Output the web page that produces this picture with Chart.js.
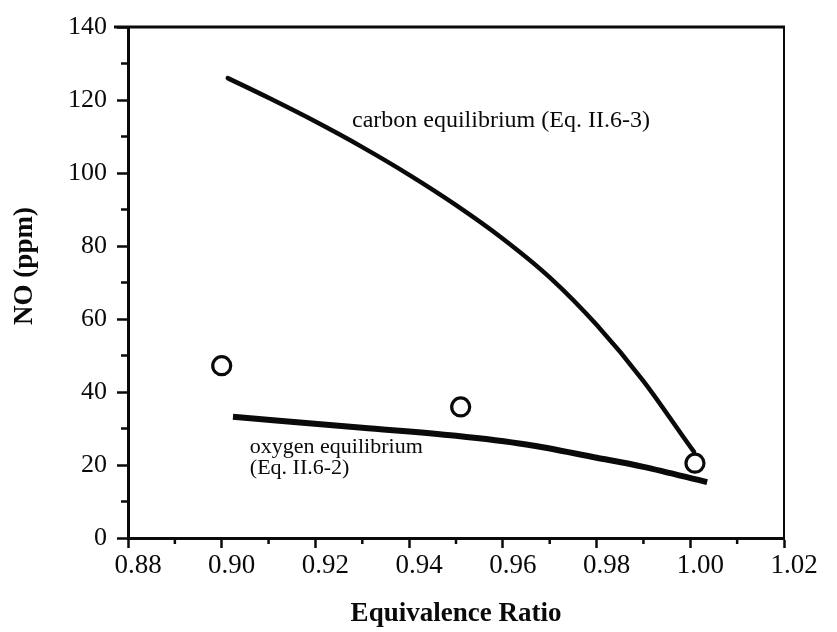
<!DOCTYPE html>
<html>
<head>
<meta charset="utf-8">
<script src="https://cdn.jsdelivr.net/npm/chart.js@4.4.0/dist/chart.umd.min.js"></script>
<style>
  html, body { margin: 0; padding: 0; background: #fff; }
  canvas { display: block; }
</style>
</head>
<body>
<canvas id="c" width="837" height="632"></canvas>
<script>
// ---- data ----
const carbonX = [0.9013, 0.910, 0.920, 0.930, 0.940, 0.950, 0.960, 0.970, 0.980, 0.990, 1.000, 1.0008];
const carbonY = [126.0, 120.6, 114.1, 107.1, 99.5, 91.2, 82.0, 71.4, 58.4, 43.0, 25.0, 23.6];
const oxygenX = [0.9024, 0.930, 0.950, 0.965, 0.980, 0.990, 1.0036];
const oxygenY = [33.2, 30.2, 28.0, 25.6, 22.0, 19.5, 15.3];
const measuredX = [0.900, 0.951, 1.001];
const measuredY = [47.2, 35.9, 20.5];
const xTicks = [0.88, 0.90, 0.92, 0.94, 0.96, 0.98, 1.00, 1.02];
const yTicks = [0, 20, 40, 60, 80, 100, 120, 140];
const xMinorTicks = [0.89, 0.91, 0.93, 0.95, 0.97, 0.99, 1.01];
const yMinorTicks = [10, 30, 50, 70, 90, 110, 130];
const xTitle = 'Equivalence Ratio';
const yTitle = 'NO (ppm)';
const labelTexts = ['carbon equilibrium (Eq. II.6-3)', 'oxygen equilibrium', '(Eq. II.6-2)'];
// label anchors (data coordinates, left/baseline) and sizes
const labelAnchors = [[0.9278, 112.6], [0.9060, 23.3], [0.9060, 17.5]];
const labelSizes = [24, 22, 22];

const toPts = (xs, ys) => xs.map((x, i) => ({ x: x, y: ys[i] }));
const INK = '#0a0a0a';
const SERIF = '"Liberation Serif", "Times New Roman", serif';

const framePlugin = {
  id: 'frame',
  afterDraw(chart) {
    const { ctx, chartArea: a, scales } = chart;
    ctx.save();
    ctx.strokeStyle = INK;
    ctx.lineCap = 'butt';
    // top border
    ctx.lineWidth = 3;
    ctx.beginPath();
    ctx.moveTo(a.left - 14, a.top);
    ctx.lineTo(a.right + 1, a.top);
    ctx.stroke();
    // right border
    ctx.lineWidth = 2;
    ctx.beginPath();
    ctx.moveTo(a.right, a.top);
    ctx.lineTo(a.right, a.bottom);
    ctx.stroke();
    // minor ticks
    ctx.lineWidth = 2.5;
    xMinorTicks.forEach(v => {
      const px = scales.x.getPixelForValue(v);
      ctx.beginPath();
      ctx.moveTo(px, a.bottom);
      ctx.lineTo(px, a.bottom + 6);
      ctx.stroke();
    });
    yMinorTicks.forEach(v => {
      const py = scales.y.getPixelForValue(v);
      ctx.beginPath();
      ctx.moveTo(a.left, py);
      ctx.lineTo(a.left - 7, py);
      ctx.stroke();
    });
    // curve labels
    ctx.fillStyle = INK;
    ctx.textAlign = 'left';
    ctx.textBaseline = 'alphabetic';
    labelTexts.forEach((t, i) => {
      ctx.font = labelSizes[i] + 'px ' + SERIF;
      const px = scales.x.getPixelForValue(labelAnchors[i][0]);
      const py = scales.y.getPixelForValue(labelAnchors[i][1]);
      ctx.fillText(t, px, py);
    });
    // y axis title
    ctx.font = 'bold 27px ' + SERIF;
    ctx.textAlign = 'center';
    ctx.textBaseline = 'middle';
    ctx.translate(25, 266);
    ctx.rotate(-Math.PI / 2);
    ctx.fillText(yTitle, 0, 0);
    ctx.restore();
  }
};

new Chart(document.getElementById('c'), {
  type: 'scatter',
  data: {
    datasets: [
      {
        label: 'carbon equilibrium',
        data: toPts(carbonX, carbonY),
        showLine: true,
        borderColor: INK,
        borderWidth: 4.5,
        pointRadius: 0,
        cubicInterpolationMode: 'monotone',
        borderCapStyle: 'round'
      },
      {
        label: 'oxygen equilibrium',
        data: toPts(oxygenX, oxygenY),
        showLine: true,
        borderColor: INK,
        borderWidth: 6,
        pointRadius: 0,
        cubicInterpolationMode: 'monotone'
      },
      {
        label: 'measured',
        data: toPts(measuredX, measuredY),
        showLine: false,
        pointRadius: 9,
        pointBorderWidth: 3.2,
        pointBackgroundColor: '#fff',
        pointBorderColor: INK
      }
    ]
  },
  options: {
    responsive: false,
    animation: false,
    layout: { padding: { top: 27, right: 53, left: 0, bottom: 0 } },
    plugins: { legend: { display: false }, tooltip: { enabled: false } },
    scales: {
      x: {
        type: 'linear',
        min: 0.88,
        max: 1.02,
        afterBuildTicks: s => { s.ticks = xTicks.map(v => ({ value: v })); },
        afterFit: s => { s.height = 94; },
        ticks: {
          callback: v => Number(v).toFixed(2),
          font: { family: SERIF, size: 27 },
          color: INK,
          padding: 2,
          labelOffset: 10,
          maxRotation: 0,
          autoSkip: false
        },
        grid: { drawOnChartArea: false, tickLength: 10, tickWidth: 2.5, tickColor: INK },
        border: { color: INK, width: 3 },
        title: {
          display: true,
          text: xTitle,
          color: INK,
          font: { family: SERIF, size: 27, weight: 'bold' },
          padding: { top: 0, bottom: 2 }
        }
      },
      y: {
        type: 'linear',
        min: 0,
        max: 140,
        afterBuildTicks: s => { s.ticks = yTicks.map(v => ({ value: v })); },
        afterFit: s => { s.width = 128; },
        ticks: {
          callback: v => String(v),
          font: { family: SERIF, size: 26 },
          color: INK,
          padding: 10,
          autoSkip: false
        },
        grid: { drawOnChartArea: false, tickLength: 11, tickWidth: 2.5, tickColor: INK },
        border: { color: INK, width: 3 },
        title: { display: false }
      }
    }
  },
  plugins: [framePlugin]
});
</script>
</body>
</html>
